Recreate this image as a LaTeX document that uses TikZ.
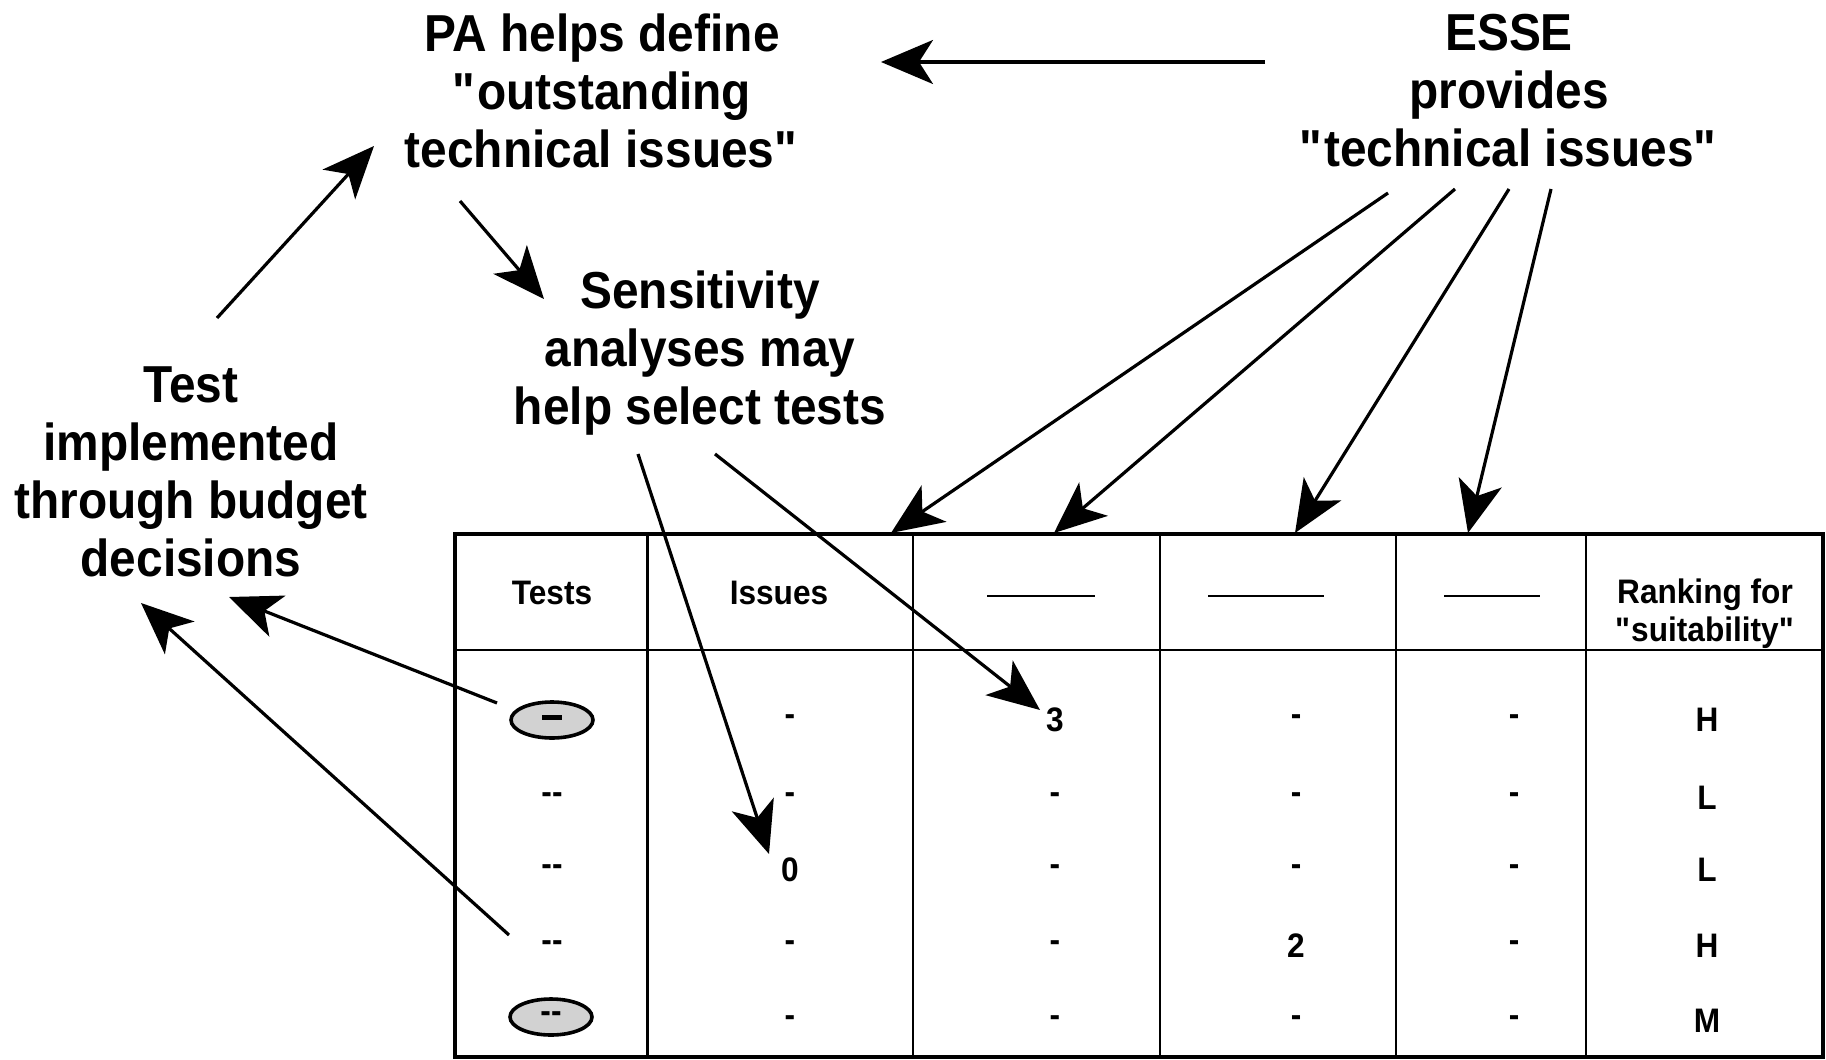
\documentclass[tikz,border=0pt]{standalone}
\usepackage{fontspec}
\setmainfont{Liberation Sans}[FakeStretch=0.92]
\newfontfamily\tabfont{Liberation Sans}[FakeStretch=0.93]
\usetikzlibrary{arrows.meta,shapes.geometric}
\newcommand{\qq}{\textquotedbl}
\begin{document}
\begin{tikzpicture}[x=0.5pt,y=-0.5pt,line width=1.6pt,
  big/.style={font=\bfseries\fontsize{26}{29}\selectfont,align=center,inner sep=0pt},
  cell/.style={font=\tabfont\bfseries\fontsize{17}{19}\selectfont,align=center,inner sep=0pt},
  arr/.style={-{Stealth[length=26pt,width=22pt,inset=7pt]},line width=1.6pt},
  oval/.style={ellipse,draw,line width=1.8pt,fill=gray!35,minimum width=41pt,minimum height=18pt,inner sep=0pt,font=\tabfont\bfseries\fontsize{17}{19}\selectfont},
  blank/.style={line width=1.4pt},
  inner/.style={line width=1.3pt},
  outer/.style={line width=2.2pt}]
\useasboundingbox (0,0) rectangle (1826,1060);

% text blocks
\node[big] (pa) at (602,91) {PA helps define\\\qq outstanding\\technical issues\qq};
\node[big] (esse) at (1509,91) {ESSE\\provides\\\qq technical issues\qq};
\node[big] (sens) at (700,353) {Sensitivity\\analyses may\\help select tests};
\node[big] (test) at (191,472) {Test\\implemented\\through budget\\decisions};

% table frame
\coordinate (tl) at (455,534);
\coordinate (br) at (1823,1057);
\draw[outer] (tl) rectangle (br);
\draw[inner] (455,650) -- (1823,650);
\foreach \x in {647.5,913,1160,1396,1586}
  \draw[inner] (\x,534) -- (\x,1057);

% header
\node[cell] (hTests) at (552,593) {Tests};
\node[cell] (hIssues) at (779,593) {Issues};
\node[cell] (hRank) at (1705,614) {Ranking for\\\qq suitability\qq};
\draw[blank] (987,596) -- (1095,596);
\draw[blank] (1208,596) -- (1324,596);
\draw[blank] (1444,596) -- (1540,596);

% rows
\node[oval] (e1) at (552,720) {\rule[0.25ex]{10pt}{2.6pt}};
\node[oval] (e2) at (551,1017) {-{}-};
\node[cell] (t2) at (552,798) {-{}-};
\node[cell] (t3) at (552,870) {-{}-};
\node[cell] (t4) at (552,946) {-{}-};

\node[cell] (i1) at (790,720) {-};
\node[cell] (i2) at (790,798) {-};
\node[cell] (i3) at (790,870) {0};
\node[cell] (i4) at (790,946) {-};
\node[cell] (i5) at (790,1021) {-};

\node[cell] (a1) at (1055,720) {3};
\node[cell] (a2) at (1055,798) {-};
\node[cell] (a3) at (1055,870) {-};
\node[cell] (a4) at (1055,946) {-};
\node[cell] (a5) at (1055,1021) {-};

\node[cell] (b1) at (1296,720) {-};
\node[cell] (b2) at (1296,798) {-};
\node[cell] (b3) at (1296,870) {-};
\node[cell] (b4) at (1296,946) {2};
\node[cell] (b5) at (1296,1021) {-};

\node[cell] (c1) at (1514,720) {-};
\node[cell] (c2) at (1514,798) {-};
\node[cell] (c3) at (1514,870) {-};
\node[cell] (c4) at (1514,946) {-};
\node[cell] (c5) at (1514,1021) {-};

\node[cell] (r1) at (1707,720) {H};
\node[cell] (r2) at (1707,798) {L};
\node[cell] (r3) at (1707,870) {L};
\node[cell] (r4) at (1707,946) {H};
\node[cell] (r5) at (1707,1021) {M};

% connector end points
\coordinate (esseL) at (1265,62);
\coordinate (paR) at (881,62);
\coordinate (testT) at (217,318);
\coordinate (paL) at (374,146);
\coordinate (paB) at (460,201);
\coordinate (sensT) at (544,299);
\coordinate (sensB1) at (638,454);
\coordinate (sensB2) at (715,454);
\coordinate (zeroT) at (769,854);
\coordinate (threeT) at (1040,710);
\coordinate (eB1) at (1388,193);
\coordinate (eB2) at (1455,189);
\coordinate (eB3) at (1509,189);
\coordinate (eB4) at (1551,189);
\coordinate (top1) at (891,533);
\coordinate (top2) at (1054,533);
\coordinate (top3) at (1295,533);
\coordinate (top4) at (1468,533);
\coordinate (e1W) at (497,703);
\coordinate (t4W) at (509,935);
\coordinate (testB1) at (229,597);
\coordinate (testB2) at (141,603);

% connectors
\draw[arr] (esseL) -- (paR);
\draw[arr] (testT) -- (paL);
\draw[arr] (paB) -- (sensT);
\draw[arr] (sensB1) -- (zeroT);
\draw[arr] (sensB2) -- (threeT);
\draw[arr] (eB1) -- (top1);
\draw[arr] (eB2) -- (top2);
\draw[arr] (eB3) -- (top3);
\draw[arr] (eB4) -- (top4);
\draw[arr] (e1W) -- (testB1);
\draw[arr] (t4W) -- (testB2);
\end{tikzpicture}
\end{document}
